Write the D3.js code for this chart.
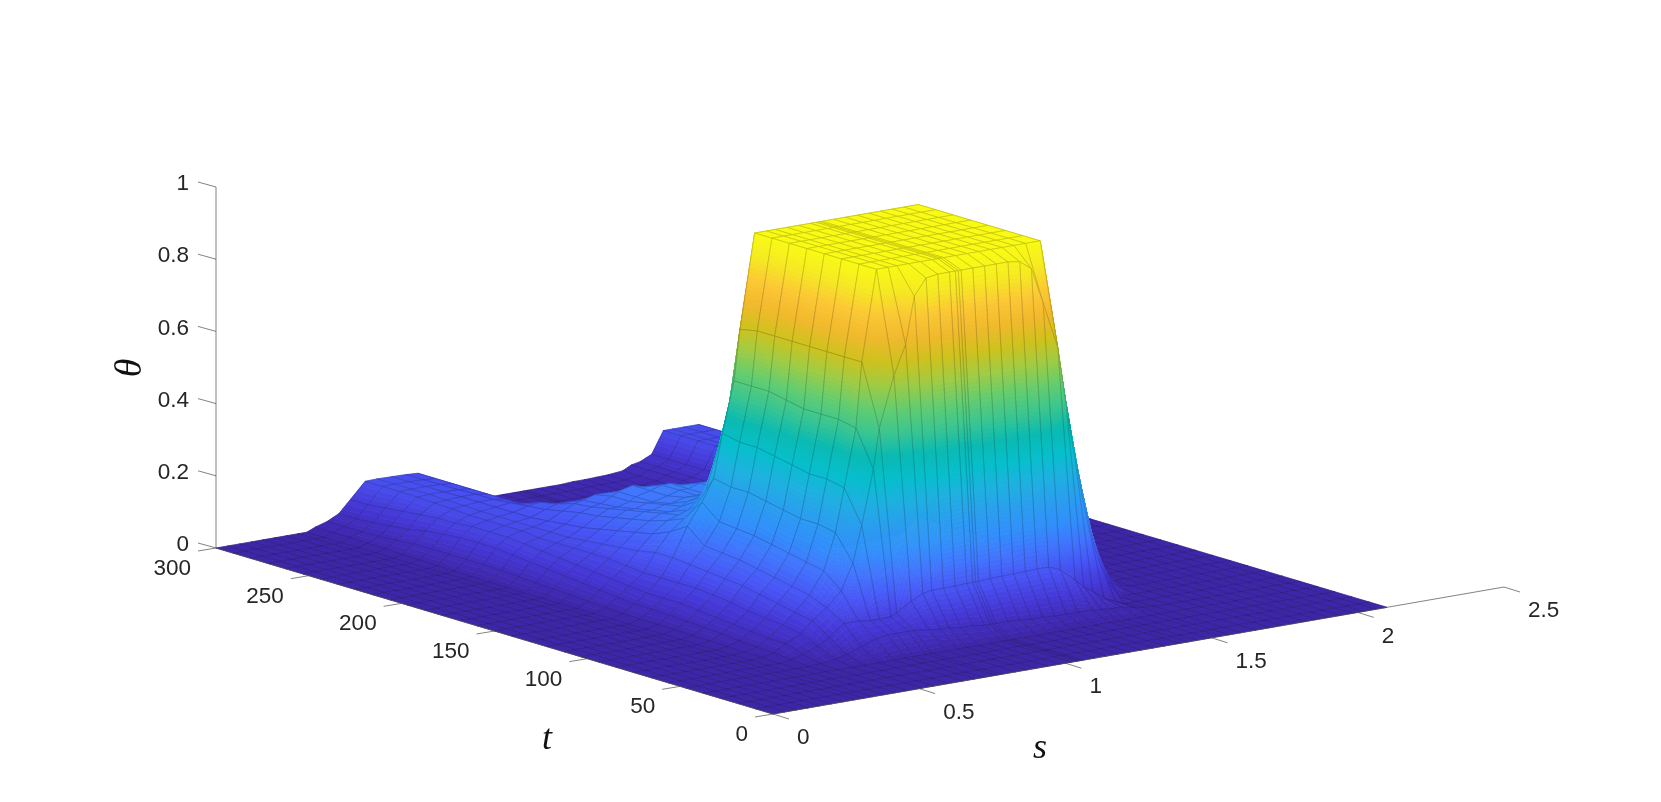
<!DOCTYPE html>
<html><head><meta charset="utf-8">
<script src="https://cdn.jsdelivr.net/npm/d3@7"></script>
<style>html,body{margin:0;background:#fff}#c,#o{position:absolute;left:0;top:0}</style>
</head><body>
<canvas id="c" width="1661" height="802"></canvas>
<svg id="o" width="1661" height="802"></svg>
<script>
const sGrid=[0,.04,.08,.12,.16,.2,.24,.28,.31,.34,.38,.42,.46,.51,.55,.6,.65,.69,.72,.76,.78,.83,.87,.9,.94,.98,1.02,1.04,1.05,1.06,1.1,1.14,1.18,1.22,1.26,1.3,1.34,1.39,1.42,1.45,1.49,1.53,1.56,1.6,1.65,1.7,1.74,1.78,1.82,1.86,1.9,1.94,1.98,2.02,2.06,2.1];
const tGrid=[0,9.4,18.8,28.1,37.5,46.9,56.3,65.6,75,84.4,93.8,103.1,112.5,121.9,131.3,140.6,150,159.4,168.8,178.1,187.5,196.9,206.3,215.6,225,234.4,243.8,253.1,262.5,271.9,281.3,290.6,300];
const sOffset=9; // first table column is sGrid[9]; columns past a row's end are 0
const top1=[1,1,1,1,1,1,1,1,1,1,1,1,1,1,1,1,1];
const wallR=[.84,.68,.47,.28,.17,.07,.01,0];
const low=[.01,.01,.01,.01,.01,.01,.01,.01,.01,.01,.01,.012,.012,.013,.014,.018];
const ridgeR=[.03,.035,.05,.11,.11,.11,.11,.05];
const thetaRows=[
[],[],[],[],[],
[0,0,0,.002,.008,.015,.03,.045,.05,.05,.05,.05,.045,.04,.04,.035,.035,.03,.03,.03,.03,.03,.028,.025,.025,.022,.022,.022,.02,.018,.016,.014,.008,.004,.001,0,0],
[0,0,.005,.015,.03,.05,.08,.08,.075,.075,.076,.085,.11,.125,.13,.13,.13,.132,.132,.132,.132,.134,.135,.136,.137,.138,.138,.125,.09,.066,.05,.025,.01,0,0,0,0],
[0,.003,.01,.03,.05,.08,.11,.15,.22,.32,.47,.58,.72,.8,.93,.975,.98,.98,.98,.98,.98,.98,.98,.98,.98,.975,.95,.85,.72,.55,.4,.23,.11,.05,0,0,0],
[0,.003,.012,.03,.06,.09,.13,.19,.29,.41,.57,.75,...top1,...wallR],
[0,.004,.015,.035,.065,.1,.14,.2,.3,.42,.58,.75,...top1,...wallR],
[0,.005,.02,.04,.07,.11,.15,.21,.3,.42,.58,.75,...top1,...wallR],
[0,.006,.022,.045,.08,.12,.16,.22,.31,.43,.58,.75,...top1,...wallR],
[0,.007,.025,.05,.085,.125,.17,.23,.32,.44,.59,.75,...top1,...wallR],
[0,.008,.028,.055,.09,.13,.175,.235,.33,.45,.6,.75,...top1,...wallR],
[0,.008,.03,.055,.09,.135,.18,.24,.33,.45,.6,.75,...top1,...wallR],
[0,.01,.03,.055,.09,.14,.22,.28,.34,.46,.6,.74,...top1,.85,.7,.48,.3,.19,.1,.05,.02],
[0,.012,.035,.06,.09,.14,.19,.22,.25,.28,.33,.38,.5,.5,.5,.5,.5,.5,.5,.5,.5,.5,.5,.5,.5,.5,.5,.5,.45,.4,.35,.25,.16,.13,.11,.08,.03],
[0,.015,.04,.065,.095,.13,.17,.2,.21,.22,.24,.25,.27,.27,.26,.25,.25,.24,.24,.24,.24,.24,.24,.22,.2,.12,.08,.06,.05,.05,.05,.08,.12,.12,.11,.11,.05],
[0,.018,.045,.07,.1,.125,.16,.185,.2,.2,.21,.22,.23,.23,.23,.23,.23,.23,.23,.22,.22,.22,.21,.18,.1,.03,.02,.02,.02,.03,.03,.07,.12,.12,.11,.11,.05],
[0,.02,.05,.075,.1,.12,.15,.175,.19,.19,.2,.2,.21,.21,.21,.22,.22,.22,.22,.21,.2,.18,.1,.03,.012,.01,.01,.01,.01,.02,.03,.07,.12,.12,.11,.11,.05],
[0,.022,.055,.08,.1,.115,.14,.165,.18,.18,.19,.19,.2,.21,.21,.22,.22,.2,.18,.14,.08,.03,.012,.01,.01,.01,.01,.01,.01,...ridgeR],
[0,.025,.06,.085,.1,.11,.13,.155,.17,.17,.18,.19,.2,.21,.21,.2,.14,.06,.03,.02,.015,.01,.01,.01,.01,.01,.01,.01,.01,...ridgeR],
[.001,.028,.065,.09,.1,.11,.125,.15,.16,.165,.18,.19,.2,.19,.12,.05,.02,.012,.01,.01,.01,.01,.01,.01,.01,.01,.01,.01,.01,...ridgeR],
[.002,.03,.07,.095,.105,.11,.12,.14,.155,.16,.17,.17,.1,.04,.015,...low.slice(2),...ridgeR],
[.003,.03,.07,.095,.105,.11,.115,.13,.14,.14,.12,.08,.03,.012,...low.slice(1),...ridgeR],
[.004,.03,.07,.095,.105,.11,.115,.125,.13,.11,.06,.04,.015,...low,...ridgeR],
[.005,.03,.065,.09,.105,.11,.115,.12,.11,.07,.04,.03,.02,...low,...ridgeR],
[.006,.03,.06,.09,.108,.112,.115,.115,.11,.075,.045,.035,.025,...low,...ridgeR],
[.008,.025,.05,.085,.11,.113,.115,.115,.11,.08,.05,.04,.025,...low,...ridgeR],
[.008,.022,.045,.08,.112,.114,.114,.113,.11,.08,.05,.04,.025,...low,...ridgeR],
[.01,.02,.04,.075,.113,.114,.114,.113,.11,.08,.05,.04,.025,...low,...ridgeR],
[.01,.02,.036,.07,.113,.114,.113,.112,.11,.08,.05,.04,.025,...low,...ridgeR],
[.01,.02,.036,.07,.113,.114,.113,.112,.11,.08,.05,.04,.025,...low,...ridgeR]
];
const sTicks=[0,.5,1,1.5,2,2.5], tTicks=[0,50,100,150,200,250,300], zTicks=[0,.2,.4,.6,.8,1];
const parulaStops=["#3e26a8","#4537d5","#4854f4","#4274fd","#3290fb","#2b9fef","#1fb1e0","#07bfcc","#0bbab2","#3cc690","#65cd6f","#a0cc46","#cfc21d","#f1b92d","#fcc836","#f6ea23","#f9fb15"];

// orthographic axes projection, from the box corners of the picture
const originX=773, originY=714;
const sx=d3.scaleLinear([0,2.5],[0,731]), sy=d3.scaleLinear([0,2.5],[0,-127]);
const tx=d3.scaleLinear([0,300],[0,-557]), ty=d3.scaleLinear([0,300],[0,-166]);
const zy=d3.scaleLinear([0,1],[0,-361]);
const px=(s,t)=>originX+sx(s)+tx(t);
const py=(s,t,z)=>originY+sy(s)+ty(t)+zy(z);
const colour=d3.scaleLinear().domain(parulaStops.map((_,i)=>i/(parulaStops.length-1))).range(parulaStops).interpolate(d3.interpolateRgb).clamp(true);

const zAt=(i,j)=>{const r=thetaRows[i],k=j-sOffset;return (k>=0&&k<r.length)?r[k]:0;};
const ctx=document.getElementById("c").getContext("2d");
const lerp=(a,b,u)=>a+(b-a)*u;
ctx.lineJoin="round";
for(let i=tGrid.length-2;i>=0;i--){
  for(let j=sGrid.length-2;j>=0;j--){
    const s0=sGrid[j],s1=sGrid[j+1],t0=tGrid[i],t1=tGrid[i+1];
    const z00=zAt(i,j),z10=zAt(i,j+1),z01=zAt(i+1,j),z11=zAt(i+1,j+1);
    const nu=Math.max(1,Math.ceil(Math.max(Math.abs(z10-z00),Math.abs(z11-z01))/.012));
    const nv=Math.max(1,Math.ceil(Math.max(Math.abs(z01-z00),Math.abs(z11-z10))/.012));
    const P=(u,v)=>{const s=lerp(s0,s1,u),t=lerp(t0,t1,v),z=lerp(lerp(z00,z10,u),lerp(z01,z11,u),v);return [px(s,t),py(s,t,z),z];};
    for(let b=nv-1;b>=0;b--)for(let a=nu-1;a>=0;a--){
      const A=P(a/nu,b/nv),B=P((a+1)/nu,b/nv),C=P((a+1)/nu,(b+1)/nv),D=P(a/nu,(b+1)/nv);
      const col=colour((A[2]+B[2]+C[2]+D[2])/4);
      ctx.beginPath();ctx.moveTo(A[0],A[1]);ctx.lineTo(B[0],B[1]);ctx.lineTo(C[0],C[1]);ctx.lineTo(D[0],D[1]);ctx.closePath();
      ctx.fillStyle=col;ctx.strokeStyle=col;ctx.lineWidth=.7;ctx.fill();ctx.stroke();
    }
    const Q=[P(0,0),P(1,0),P(1,1),P(0,1)];
    ctx.beginPath();Q.forEach((p,k)=>k?ctx.lineTo(p[0],p[1]):ctx.moveTo(p[0],p[1]));ctx.closePath();
    ctx.strokeStyle="rgba(0,0,0,.26)";ctx.lineWidth=.6;ctx.stroke();
  }
}

const svg=d3.select("#o");
const axisCol="#4d4d4d", textCol="#262626", font="'Liberation Sans',Arial,sans-serif";
const line=(x1,y1,x2,y2)=>svg.append("line").attr("x1",x1).attr("y1",y1).attr("x2",x2).attr("y2",y2).attr("stroke",axisCol).attr("stroke-width",.7);
line(px(0,0),py(0,0,0),px(2.5,0),py(2.5,0,0));
line(px(0,0),py(0,0,0),px(0,300),py(0,300,0));
line(px(0,300),py(0,300,0),px(0,300),py(0,300,1));
const label=(x,y,txt,anchor)=>svg.append("text").attr("x",x).attr("y",y).attr("dy",".36em").attr("text-anchor",anchor).attr("font-family",font).attr("font-size",22.5).attr("fill",textCol).text(txt);
zTicks.forEach(z=>{const x=px(0,300),y=py(0,300,z);line(x,y,x-18,y-5);label(x-27,y-5,z,"end");});
tTicks.forEach(t=>{const x=px(0,t),y=py(0,t,0);line(x,y,x-18,y+3);label(x-25,y+19,t,"end");});
sTicks.forEach(s=>{const x=px(s,0),y=py(s,0,0);line(x,y,x+16,y+5);label(x+24,y+22,s,"start");});
const serif="'Liberation Serif','DejaVu Serif',serif";
svg.append("text").attr("transform","translate(141,368) rotate(-90)").attr("text-anchor","middle").attr("font-family",serif).attr("font-style","italic").attr("font-size",38).attr("fill","#111").text("θ");
svg.append("text").attr("x",547).attr("y",749).attr("text-anchor","middle").attr("font-family",serif).attr("font-style","italic").attr("font-size",36).attr("fill","#111").text("t");
svg.append("text").attr("x",1040).attr("y",758).attr("text-anchor","middle").attr("font-family",serif).attr("font-style","italic").attr("font-size",36).attr("fill","#111").text("s");
</script>
</body></html>
